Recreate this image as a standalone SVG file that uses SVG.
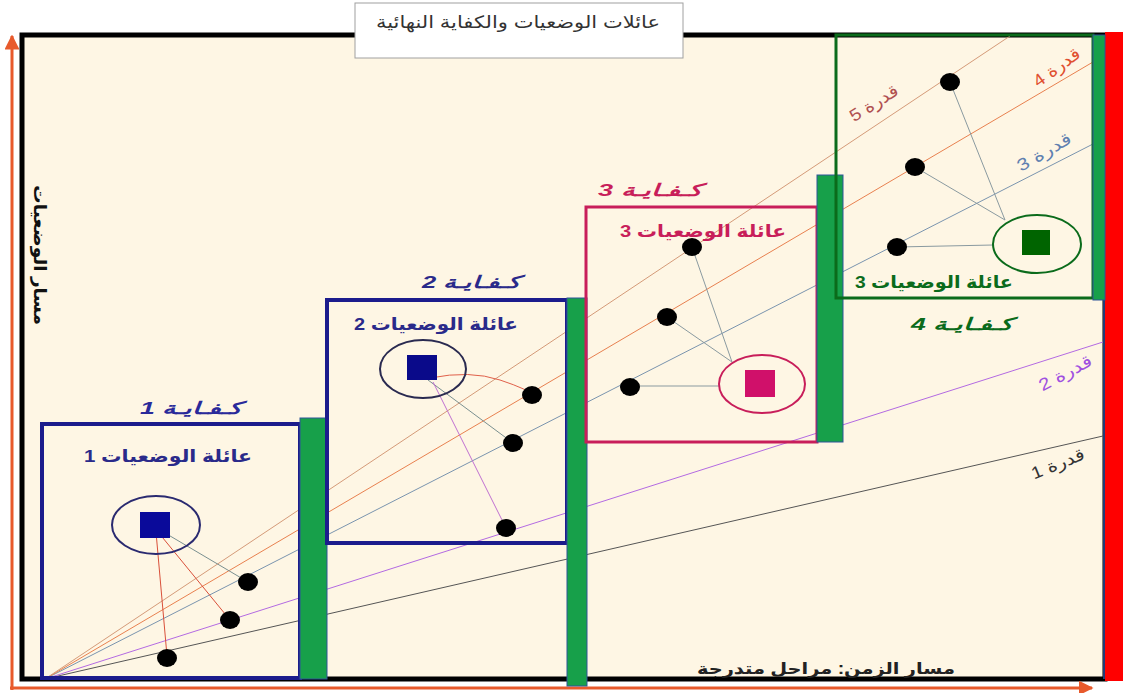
<svg xmlns="http://www.w3.org/2000/svg" width="1123" height="693" viewBox="0 0 1123 693">
<defs>
<marker id="ah" viewBox="0 0 10 10" refX="9" refY="5" markerWidth="5" markerHeight="5" orient="auto" markerUnits="strokeWidth">
<path d="M0,0 L10,5 L0,10 z" fill="#E85A2C"/>
</marker>
<style>
text{font-family:"Liberation Sans","DejaVu Sans",sans-serif;direction:rtl}
.lbl{font-size:17px;font-weight:bold;text-anchor:middle}
.kf{font-size:17px;font-weight:bold;font-style:italic;text-anchor:middle}
.q{font-size:17px;text-anchor:middle}
.dot{fill:#000}
.gbar{fill:#17A04A;stroke:#2F5597;stroke-width:1}
.fan{fill:none;stroke-width:1}
.link{fill:none;stroke:#8A9AA0;stroke-width:1}
</style>
</defs>
<rect x="0" y="0" width="1123" height="693" fill="#FFFFFF"/>
<g id="frame">
<rect x="22" y="35" width="1083" height="644" fill="#FEF6E4" stroke="#000" stroke-width="5"/>
<rect x="1105" y="32" width="18" height="649" fill="#FF0000"/>
<line x1="1104" y1="35" x2="1104" y2="679" stroke="#2F4F9F" stroke-width="1.5"/>
</g>
<g id="connectors">
<line class="fan" x1="45" y1="679" x2="1103" y2="436" stroke="#555555"/>
<line class="fan" x1="45" y1="679" x2="1103" y2="342" stroke="#B36AE2"/>
<line class="fan" x1="45" y1="679" x2="1093" y2="144" stroke="#7A94AE"/>
<line class="fan" x1="45" y1="679" x2="1093" y2="62" stroke="#E8804F"/>
<line class="fan" x1="45" y1="679" x2="1010" y2="36" stroke="#D49A78"/>
<line x1="160" y1="530" x2="248" y2="582" stroke="#7A9090" stroke-width="1"/>
<line x1="158" y1="532" x2="230" y2="620" stroke="#D9503A" stroke-width="1"/>
<line x1="156" y1="532" x2="167" y2="656" stroke="#D9503A" stroke-width="1"/>
<path d="M430,378 Q470,370 500,380 T532,395" fill="none" stroke="#E0604A" stroke-width="1"/>
<line x1="428" y1="380" x2="513" y2="443" stroke="#7A9090" stroke-width="1"/>
<line x1="433" y1="382" x2="506" y2="528" stroke="#C070D0" stroke-width="1"/>
<line class="link" x1="692" y1="247" x2="732" y2="362"/>
<line class="link" x1="667" y1="317" x2="732" y2="362"/>
<line class="link" x1="630" y1="386" x2="719" y2="386"/>
<line class="link" x1="950" y1="82" x2="1005" y2="220"/>
<line class="link" x1="915" y1="167" x2="1005" y2="220"/>
<line class="link" x1="897" y1="247" x2="993" y2="245"/>
</g>
<g id="axes">
<line x1="12" y1="690" x2="12" y2="36" stroke="#E85A2C" stroke-width="3" marker-end="url(#ah)"/>
<line x1="10" y1="688" x2="1092" y2="688" stroke="#E85A2C" stroke-width="3" marker-end="url(#ah)"/>
<text x="0" y="0" transform="translate(34,255) rotate(90)" font-size="17" font-weight="bold" text-anchor="middle" fill="#111" textLength="140" lengthAdjust="spacingAndGlyphs">مسار الوضعيات</text>
<text x="826" y="674" font-size="16" font-weight="bold" text-anchor="middle" fill="#222" textLength="258" lengthAdjust="spacingAndGlyphs">مسار الزمن: مراحل متدرجة</text>
</g>
<g id="title">
<rect x="355" y="3" width="328" height="55" fill="#FFFFFF" stroke="#A0A0A0" stroke-width="1"/>
<text x="518" y="28" font-size="17" text-anchor="middle" fill="#333" textLength="284" lengthAdjust="spacingAndGlyphs">عائلات الوضعيات والكفاية النهائية</text>
</g>
<g id="node1">
<rect x="42" y="424" width="258" height="254" fill="none" stroke="#1C1C8C" stroke-width="4"/>
<rect class="gbar" x="300" y="418" width="27" height="261"/>
<text class="kf" x="191" y="414" fill="#2A2A9A" textLength="102" lengthAdjust="spacingAndGlyphs">كـفـايـة 1</text>
<text class="lbl" x="168" y="462" fill="#2A2A8A" textLength="168" lengthAdjust="spacingAndGlyphs">عائلة  الوضعيات 1</text>
<ellipse cx="156" cy="525" rx="44" ry="29" fill="none" stroke="#2A2A70" stroke-width="2"/>
<rect x="140" y="512" width="30" height="26" fill="#0A0A9A"/>
<ellipse class="dot" cx="248" cy="582" rx="10" ry="9"/>
<ellipse class="dot" cx="230" cy="620" rx="10" ry="9"/>
<ellipse class="dot" cx="167" cy="658" rx="10" ry="9"/>
</g>
<g id="node2">
<rect x="327" y="300" width="240" height="243" fill="none" stroke="#1C1C8C" stroke-width="4"/>
<rect class="gbar" x="567" y="298" width="20" height="388"/>
<text class="kf" x="471" y="288" fill="#2A2A8A" textLength="98" lengthAdjust="spacingAndGlyphs">كـفـايـة 2</text>
<text class="lbl" x="436" y="330" fill="#2A2A8A" textLength="164" lengthAdjust="spacingAndGlyphs">عائلة الوضعيات 2</text>
<ellipse cx="423" cy="369" rx="43" ry="29" fill="none" stroke="#2A2A50" stroke-width="2"/>
<rect x="407" y="355" width="30" height="25" fill="#0A0A8A"/>
<ellipse class="dot" cx="532" cy="395" rx="10" ry="9"/>
<ellipse class="dot" cx="513" cy="443" rx="10" ry="9"/>
<ellipse class="dot" cx="506" cy="528" rx="10" ry="9"/>
</g>
<g id="node3">
<rect x="586" y="207" width="231" height="235" fill="none" stroke="#C81E5A" stroke-width="3"/>
<rect class="gbar" x="817" y="175" width="26" height="267"/>
<text class="kf" x="650" y="196" fill="#C81E5A" textLength="104" lengthAdjust="spacingAndGlyphs">كـفـايـة 3</text>
<text class="lbl" x="703" y="237" fill="#C81E5A" textLength="166" lengthAdjust="spacingAndGlyphs">عائلة الوضعيات 3</text>
<ellipse cx="762" cy="384" rx="43" ry="29" fill="none" stroke="#C81E5A" stroke-width="2"/>
<rect x="745" y="370" width="30" height="27" fill="#D0106A"/>
<ellipse class="dot" cx="692" cy="247" rx="10" ry="9"/>
<ellipse class="dot" cx="667" cy="317" rx="10" ry="9"/>
<ellipse class="dot" cx="630" cy="387" rx="10" ry="9"/>
</g>
<g id="node4">
<rect x="836" y="35" width="257" height="263" fill="none" stroke="#0B6B1B" stroke-width="3"/>
<rect class="gbar" x="1093" y="35" width="12" height="265"/>
<text class="lbl" x="934" y="288" fill="#0B6B1B" textLength="158" lengthAdjust="spacingAndGlyphs">عائلة الوضعيات 3</text>
<text class="kf" x="962" y="330" fill="#0B6B1B" textLength="102" lengthAdjust="spacingAndGlyphs">كـفـايـة 4</text>
<ellipse cx="1037" cy="244" rx="44" ry="29" fill="none" stroke="#0B6B1B" stroke-width="2"/>
<rect x="1022" y="230" width="28" height="25" fill="#006400"/>
<ellipse class="dot" cx="950" cy="82" rx="10" ry="9"/>
<ellipse class="dot" cx="915" cy="167" rx="10" ry="9"/>
<ellipse class="dot" cx="897" cy="247" rx="10" ry="9"/>
</g>
<g id="labels">
<text class="q" transform="translate(877,108) rotate(-32)" fill="#B05050" textLength="54" lengthAdjust="spacingAndGlyphs">قدرة 5</text>
<text class="q" transform="translate(1060,72) rotate(-36)" fill="#E05030" textLength="54" lengthAdjust="spacingAndGlyphs">قدرة 4</text>
<text class="q" transform="translate(1047,157) rotate(-30)" fill="#6080B0" textLength="60" lengthAdjust="spacingAndGlyphs">قدرة 3</text>
<text class="q" transform="translate(1068,378) rotate(-28)" fill="#A050E0" textLength="58" lengthAdjust="spacingAndGlyphs">قدرة 2</text>
<text class="q" transform="translate(1060,469) rotate(-22)" fill="#333" textLength="56" lengthAdjust="spacingAndGlyphs">قدرة 1</text>
</g>
</svg>
